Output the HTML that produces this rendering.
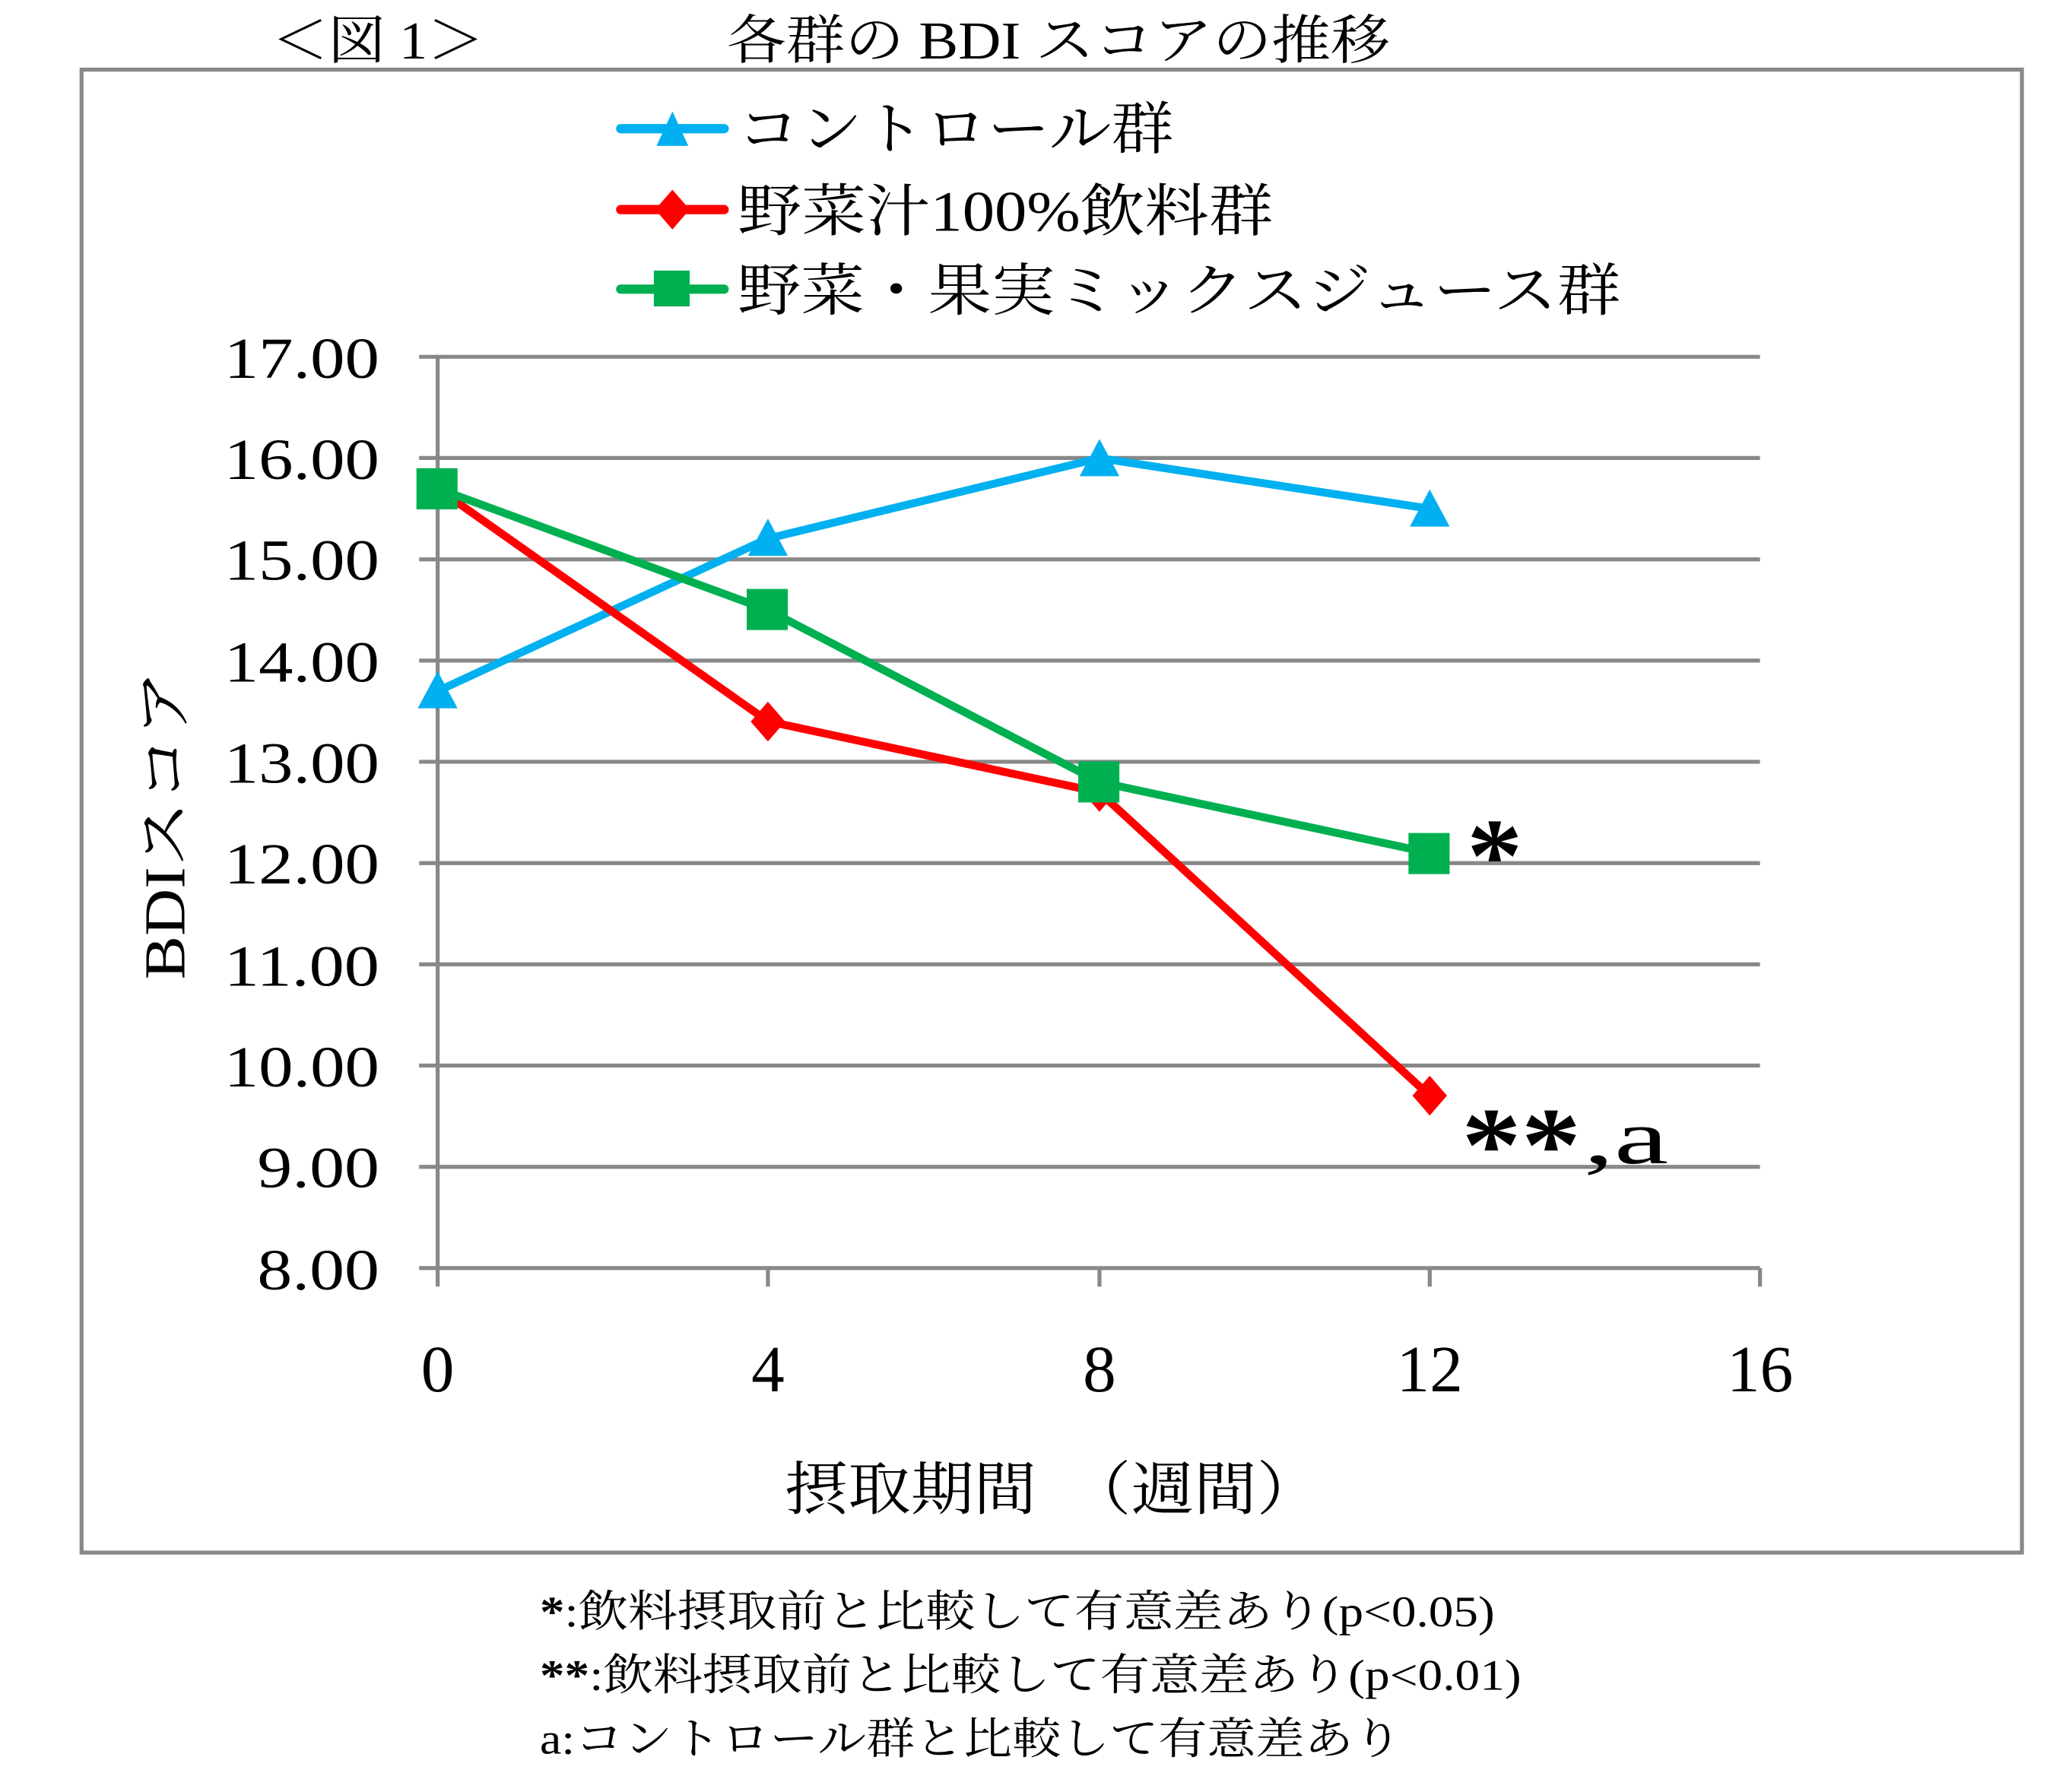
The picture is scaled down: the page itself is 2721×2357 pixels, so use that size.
<!DOCTYPE html>
<html><head><meta charset="utf-8"><style>
html,body{margin:0;padding:0;background:#fff}
svg{display:block}
text{font-family:"Liberation Serif","Noto Serif CJK JP","Noto Serif CJK SC",serif;fill:#000}
</style></head><body>
<svg width="2721" height="2357" viewBox="0 0 1560 1351" preserveAspectRatio="none" xmlns="http://www.w3.org/2000/svg">
<rect x="0" y="0" width="1560" height="1351" fill="#fff"/>
<text x="205" y="44" font-size="40" textLength="160" lengthAdjust="spacingAndGlyphs">＜図 1＞</text>
<text x="548" y="44" font-size="40" textLength="500" lengthAdjust="spacingAndGlyphs">各群の BDI スコアの推移</text>
<rect x="61.5" y="52.5" width="1463" height="1118" fill="none" stroke="#888" stroke-width="3"/>
<!-- legend -->
<line x1="468" y1="97" x2="546" y2="97" stroke="#00B0F0" stroke-width="7" stroke-linecap="round"/>
<polygon points="507,84 519,110 495,110" fill="#00B0F0"/>
<text x="556" y="112" font-size="43" textLength="329" lengthAdjust="spacingAndGlyphs">コントロール群</text>
<line x1="468" y1="158" x2="546" y2="158" stroke="#FF0000" stroke-width="7" stroke-linecap="round"/>
<polygon points="507,143 520,158 507,173 494,158" fill="#FF0000"/>
<text x="556" y="174" font-size="43" textLength="404" lengthAdjust="spacingAndGlyphs">野菜汁100%飲料群</text>
<line x1="468" y1="218" x2="546" y2="218" stroke="#00B050" stroke-width="7" stroke-linecap="round"/>
<rect x="493" y="204" width="27" height="27" fill="#00B050"/>
<text x="556" y="234" font-size="43" textLength="666" lengthAdjust="spacingAndGlyphs">野菜・果実ミックスジュース群</text>
<!-- grid -->
<g stroke="#888" stroke-width="3">
<line x1="316" y1="269" x2="1327" y2="269"/>
<line x1="316" y1="345.3" x2="1327" y2="345.3"/>
<line x1="316" y1="421.7" x2="1327" y2="421.7"/>
<line x1="316" y1="498" x2="1327" y2="498"/>
<line x1="316" y1="574.3" x2="1327" y2="574.3"/>
<line x1="316" y1="650.7" x2="1327" y2="650.7"/>
<line x1="316" y1="727" x2="1327" y2="727"/>
<line x1="316" y1="803.3" x2="1327" y2="803.3"/>
<line x1="316" y1="879.7" x2="1327" y2="879.7"/>
<line x1="316" y1="956" x2="1327" y2="956"/>
<line x1="330" y1="269" x2="330" y2="970"/>
<line x1="579" y1="956" x2="579" y2="970"/>
<line x1="829" y1="956" x2="829" y2="970"/>
<line x1="1078" y1="956" x2="1078" y2="970"/>
<line x1="1327" y1="956" x2="1327" y2="970"/>
</g>
<g font-size="44" text-anchor="end">
<text x="286" y="285" textLength="117" lengthAdjust="spacingAndGlyphs">17.00</text>
<text x="286" y="361" textLength="117" lengthAdjust="spacingAndGlyphs">16.00</text>
<text x="286" y="437" textLength="117" lengthAdjust="spacingAndGlyphs">15.00</text>
<text x="286" y="514" textLength="117" lengthAdjust="spacingAndGlyphs">14.00</text>
<text x="286" y="590" textLength="117" lengthAdjust="spacingAndGlyphs">13.00</text>
<text x="286" y="666" textLength="117" lengthAdjust="spacingAndGlyphs">12.00</text>
<text x="286" y="743" textLength="117" lengthAdjust="spacingAndGlyphs">11.00</text>
<text x="286" y="819" textLength="117" lengthAdjust="spacingAndGlyphs">10.00</text>
<text x="286" y="895" textLength="92" lengthAdjust="spacingAndGlyphs">9.00</text>
<text x="286" y="972" textLength="92" lengthAdjust="spacingAndGlyphs">8.00</text>
</g>
<g font-size="50" text-anchor="middle">
<text x="330" y="1049">0</text>
<text x="579" y="1049">4</text>
<text x="829" y="1049">8</text>
<text x="1078" y="1049">12</text>
<text x="1327" y="1049">16</text>
</g>
<text x="0" y="0" font-size="44" text-anchor="middle" textLength="233" lengthAdjust="spacingAndGlyphs" transform="translate(139,622) rotate(-90)">BDIスコア</text>
<text x="592" y="1138" font-size="44" textLength="403" lengthAdjust="spacingAndGlyphs">摂取期間　（週間）</text>
<!-- series -->
<polyline points="330,521 579,406 829,345.4 1078,383.5" fill="none" stroke="#00B0F0" stroke-width="6"/>
<polyline points="330,368.3 579,543.8 829,597.3 1078,826.2" fill="none" stroke="#FF0000" stroke-width="6"/>
<polyline points="330,368.3 579,459.9 829,589.6 1078,643" fill="none" stroke="#00B050" stroke-width="6"/>
<g fill="#00B0F0">
<polygon points="330,506 345,534 315,534"/>
<polygon points="579,391 594,419 564,419"/>
<polygon points="829,331 844,359 814,359"/>
<polygon points="1078,369 1093,397 1063,397"/>
</g>
<g fill="#FF0000">
<polygon points="330,354 343,368 330,383 317,368"/>
<polygon points="579,529 592,544 579,559 566,544"/>
<polygon points="829,583 842,597 829,612 816,597"/>
<polygon points="1078,811 1091,826 1078,841 1065,826"/>
</g>
<g fill="#00B050">
<rect x="314" y="353" width="31" height="31"/>
<rect x="563" y="444" width="31" height="31"/>
<rect x="813" y="574" width="31" height="31"/>
<rect x="1062" y="628" width="31" height="31"/>
</g>
<text x="1106" y="672" font-size="80" font-weight="bold" textLength="42" lengthAdjust="spacingAndGlyphs">*</text>
<text x="1102" y="890" font-size="80" font-weight="bold" textLength="90" lengthAdjust="spacingAndGlyphs">**</text>
<text x="1194" y="877" font-size="58" textLength="64" lengthAdjust="spacingAndGlyphs">,a</text>
<!-- footnotes -->
<g font-size="33">
<text x="407" y="1226" textLength="720" lengthAdjust="spacingAndGlyphs"><tspan font-weight="bold">*</tspan>:飲料摂取前と比較して有意差あり(p&lt;0.05)</text>
<text x="407" y="1274" textLength="740" lengthAdjust="spacingAndGlyphs"><tspan font-weight="bold">**</tspan>:飲料摂取前と比較して有意差あり(p&lt;0.01)</text>
<text x="407" y="1322" textLength="650" lengthAdjust="spacingAndGlyphs">a:コントロール群と比較して有意差あり</text>
</g>
</svg>
</body></html>
